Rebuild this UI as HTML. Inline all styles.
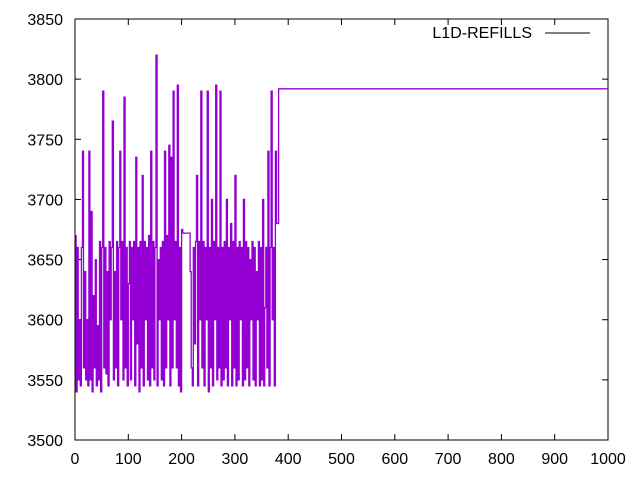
<!DOCTYPE html>
<html><head><meta charset="utf-8"><style>
body{margin:0;background:#fff}
svg{display:block;font-family:"Liberation Sans",sans-serif;font-size:16px}
</style></head><body>
<svg width="640" height="480">
<g id="axes"></g><g id="series"></g>
<g>
<text x="532" y="38" text-anchor="end">L1D-REFILLS</text>
<line x1="545" y1="33" x2="590" y2="33" stroke="#000" stroke-width="1"/>
</g>
</svg>
<script>
const xTicks=[0,100,200,300,400,500,600,700,800,900,1000];
const yTicks=[3500,3550,3600,3650,3700,3750,3800,3850];
const vals=[3670,3540,3660,3550,3600,3545,3660,3740,3560,3640,
3550,3600,3545,3740,3550,3690,3540,3620,3560,3650,
3545,3595,3550,3665,3540,3660,3790,3560,3660,3555,
3640,3545,3665,3600,3660,3765,3550,3640,3560,3665,
3545,3660,3740,3600,3665,3550,3785,3560,3660,3545,
3630,3665,3550,3660,3600,3665,3545,3735,3580,3660,
3540,3665,3560,3720,3545,3665,3600,3660,3550,3670,
3545,3740,3560,3665,3550,3660,3820,3545,3650,3600,
3660,3550,3665,3545,3740,3560,3670,3600,3745,3545,
3735,3560,3790,3600,3665,3560,3795,3545,3660,3540,
3675,3672,3672,3672,3672,3672,3672,3672,3640,3560,
3545,3660,3580,3665,3720,3545,3665,3600,3790,3560,
3665,3545,3660,3600,3790,3540,3660,3560,3700,3545,
3665,3600,3795,3550,3660,3560,3790,3545,3660,3550,
3665,3560,3700,3545,3660,3600,3680,3545,3665,3560,
3720,3545,3660,3550,3665,3600,3660,3545,3700,3550,
3665,3560,3660,3545,3650,3600,3665,3550,3660,3545,
3640,3600,3665,3545,3660,3550,3700,3545,3610,3660,
3560,3740,3545,3660,3790,3600,3660,3545,3740,3680];
const tailStart=382, tailEnd=1000, tailVal=3792;
const X0=75,X1=608,Y0=440,Y1=19;
const sx=v=>X0+(v-0)/1000*(X1-X0);
const sy=v=>Y0-(v-3500)/350*(Y0-Y1);
const NS="http://www.w3.org/2000/svg";
function mk(t,a,p){const e=document.createElementNS(NS,t);for(const k in a)e.setAttribute(k,a[k]);p.appendChild(e);return e;}
const ax=document.getElementById('axes');
const frame=mk('rect',{x:X0,y:Y1,width:X1-X0,height:Y0-Y1,fill:'none',stroke:'#000','stroke-width':1},ax);


xTicks.forEach(t=>{const x=sx(t);
mk('line',{x1:x,y1:Y0,x2:x,y2:Y0-6,stroke:'#000'},ax);
mk('line',{x1:x,y1:Y1,x2:x,y2:Y1+6,stroke:'#000'},ax);
const tx=mk('text',{x:x,y:Y0+24,'text-anchor':'middle'},ax);tx.textContent=t;

});
yTicks.forEach(t=>{const y=sy(t);
mk('line',{x1:X0,y1:y,x2:X0+6,y2:y,stroke:'#000'},ax);
mk('line',{x1:X1,y1:y,x2:X1-6,y2:y,stroke:'#000'},ax);
const tx=mk('text',{x:X0-12,y:y+6,'text-anchor':'end'},ax);tx.textContent=t;

});
let d='';
vals.forEach((v,i)=>{const x=sx(i*2),y=sy(v);
if(i===0)d+='M'+x.toFixed(1)+','+y.toFixed(1);
else d+='H'+x.toFixed(1)+'V'+y.toFixed(1);});
d+='H'+sx(tailStart).toFixed(1)+'V'+sy(tailVal).toFixed(1)+'H'+sx(tailEnd).toFixed(1);
const p=mk('path',{d:d,fill:'none',stroke:'#9400d3','stroke-width':1.3},document.getElementById('series'));


</script>
</body></html>
